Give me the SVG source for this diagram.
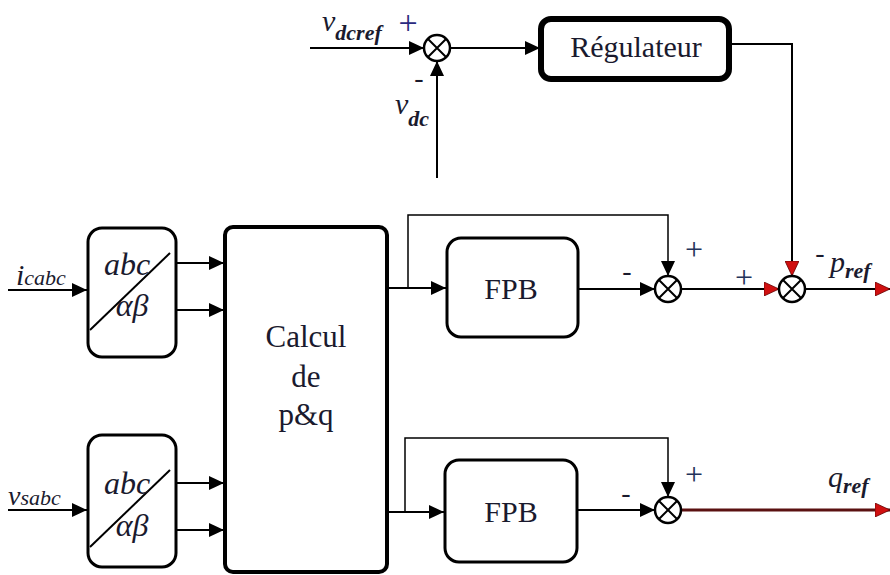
<svg xmlns="http://www.w3.org/2000/svg" width="890" height="575" viewBox="0 0 890 575">
<defs>
<marker id="ah" markerUnits="userSpaceOnUse" markerWidth="16" markerHeight="14" refX="15" refY="7" orient="auto"><path d="M0,0 L15,7 L0,14 z" fill="#000"/></marker>
<marker id="ahr" markerUnits="userSpaceOnUse" markerWidth="16" markerHeight="14" refX="15" refY="7" orient="auto"><path d="M0,0 L15,7 L0,14 z" fill="#d01010" stroke="#600" stroke-width="0.8"/></marker>
<g id="sumsym"><circle cx="0" cy="0" r="13" fill="#fff" stroke="#000" stroke-width="2.5"/><path d="M-9,-9 L9,9 M9,-9 L-9,9" stroke="#000" stroke-width="2"/></g>
</defs>
<rect width="890" height="575" fill="#fff"/>

<g id="connectors" fill="none" stroke="#000" stroke-width="2">
<line x1="310" y1="48" x2="424" y2="48" marker-end="url(#ah)"/>
<line x1="437" y1="178" x2="437" y2="61" marker-end="url(#ah)"/>
<line x1="450" y1="48" x2="540" y2="48" marker-end="url(#ah)"/>
<polyline points="730,44 792,44 792,276" marker-end="url(#ahr)"/>
<line x1="8" y1="290" x2="87" y2="290" marker-end="url(#ah)"/>
<line x1="176" y1="263" x2="224" y2="263" marker-end="url(#ah)"/>
<line x1="176" y1="310" x2="224" y2="310" marker-end="url(#ah)"/>
<line x1="8" y1="510" x2="87" y2="510" marker-end="url(#ah)"/>
<line x1="176" y1="483" x2="224" y2="483" marker-end="url(#ah)"/>
<line x1="176" y1="530" x2="224" y2="530" marker-end="url(#ah)"/>
<line x1="387" y1="288" x2="446" y2="288" marker-end="url(#ah)"/>
<polyline stroke-width="1.5" points="408,288 408,215 668,215 668,276" marker-end="url(#ah)"/>
<line x1="578" y1="289" x2="655" y2="289" marker-end="url(#ah)"/>
<line x1="681" y1="289" x2="779" y2="289" marker-end="url(#ahr)"/>
<line x1="805" y1="289" x2="890" y2="289" marker-end="url(#ahr)"/>
<line x1="387" y1="512" x2="444" y2="512" marker-end="url(#ah)"/>
<polyline stroke-width="1.5" points="405,512 405,438 668,438 668,497" marker-end="url(#ah)"/>
<line x1="577" y1="510" x2="655" y2="510" marker-end="url(#ah)"/>
<line x1="681" y1="510" x2="890" y2="510" stroke="#5a1010" stroke-width="3" marker-end="url(#ahr)"/>
</g>

<g id="sum1"><use href="#sumsym" x="437" y="48"/></g>
<g id="sum2"><use href="#sumsym" x="668" y="289"/></g>
<g id="sum3"><use href="#sumsym" x="792" y="289"/></g>
<g id="sum4"><use href="#sumsym" x="668" y="510"/></g>

<g id="regulateur">
<rect x="541" y="19" width="188" height="60" rx="10" fill="#fff" stroke="#000" stroke-width="6"/>
<text x="636" y="57" style="font-family:'Liberation Serif',serif;font-size:30px" fill="#1a1a2e" text-anchor="middle">Régulateur</text>
</g>

<g id="abc1">
<rect x="88" y="228" width="88" height="129" rx="14" fill="#fff" stroke="#000" stroke-width="3"/>
<line x1="90" y1="330" x2="170" y2="253" stroke="#000" stroke-width="2"/>
<text x="127" y="275" style="font-family:'Liberation Serif',serif;font-style:italic;font-size:32px" fill="#1a1a2e" text-anchor="middle">abc</text>
<text x="132" y="316" style="font-family:'Liberation Serif',serif;font-style:italic;font-size:32px" fill="#1a1a2e" text-anchor="middle">αβ</text>
</g>

<g id="abc2">
<rect x="88" y="435" width="88" height="132" rx="14" fill="#fff" stroke="#000" stroke-width="3"/>
<line x1="90" y1="547" x2="170" y2="470" stroke="#000" stroke-width="2"/>
<text x="127" y="494" style="font-family:'Liberation Serif',serif;font-style:italic;font-size:32px" fill="#1a1a2e" text-anchor="middle">abc</text>
<text x="132" y="536" style="font-family:'Liberation Serif',serif;font-style:italic;font-size:32px" fill="#1a1a2e" text-anchor="middle">αβ</text>
</g>

<g id="calcul">
<rect x="225" y="227" width="162" height="345" rx="8" fill="#fff" stroke="#000" stroke-width="4"/>
<text x="306" y="347" style="font-family:'Liberation Serif',serif;font-size:31px" fill="#1a1a2e" text-anchor="middle">Calcul</text>
<text x="306" y="387" style="font-family:'Liberation Serif',serif;font-size:31px" fill="#1a1a2e" text-anchor="middle">de</text>
<text x="306" y="425" style="font-family:'Liberation Serif',serif;font-size:31px" fill="#1a1a2e" text-anchor="middle">p&amp;q</text>
</g>

<g id="fpb1">
<rect x="447" y="238" width="131" height="99" rx="14" fill="#fff" stroke="#000" stroke-width="3"/>
<text x="511" y="299" style="font-family:'Liberation Serif',serif;font-size:30px" fill="#1a1a2e" text-anchor="middle">FPB</text>
</g>

<g id="fpb2">
<rect x="445" y="460" width="132" height="102" rx="14" fill="#fff" stroke="#000" stroke-width="3"/>
<text x="511" y="522" style="font-family:'Liberation Serif',serif;font-size:30px" fill="#1a1a2e" text-anchor="middle">FPB</text>
</g>

<g id="labels">
<text x="322" y="31" style="font-family:'Liberation Serif',serif;font-size:30px;font-style:italic" fill="#1a1a2e">v<tspan style="font-size:22px;font-weight:bold" dy="9">dcref</tspan></text>
<text x="408" y="34" style="font-family:'Liberation Serif',serif;font-size:34px" text-anchor="middle" fill="#2a2a80">+</text>
<text x="419" y="87" style="font-family:'Liberation Serif',serif;font-size:28px" text-anchor="middle" fill="#1a1a2e">-</text>
<text x="395" y="114" style="font-family:'Liberation Serif',serif;font-size:30px;font-style:italic" fill="#1a1a2e">v<tspan style="font-size:22px;font-weight:bold" dy="12">dc</tspan></text>
<text x="16" y="285" style="font-family:'Liberation Serif',serif;font-size:30px;font-style:italic" fill="#1a1a2e">i<tspan style="font-size:22px">cabc</tspan></text>
<text x="8" y="505" style="font-family:'Liberation Serif',serif;font-size:28px;font-style:italic" fill="#1a1a2e">v<tspan style="font-size:22px">sabc</tspan></text>
<text x="627" y="280" style="font-family:'Liberation Serif',serif;font-size:28px" text-anchor="middle" fill="#1a1a2e">-</text>
<text x="694" y="260" style="font-family:'Liberation Serif',serif;font-size:32px" text-anchor="middle" fill="#23335a">+</text>
<text x="744" y="288" style="font-family:'Liberation Serif',serif;font-size:32px" text-anchor="middle" fill="#23335a">+</text>
<text x="820" y="262" style="font-family:'Liberation Serif',serif;font-size:28px" text-anchor="middle" fill="#1a1a2e">-</text>
<text x="830" y="272" style="font-family:'Liberation Serif',serif;font-size:30px;font-style:italic" fill="#1a1a2e">p<tspan style="font-size:22px;font-weight:bold" dy="6">ref</tspan></text>
<text x="626" y="502" style="font-family:'Liberation Serif',serif;font-size:28px" text-anchor="middle" fill="#1a1a2e">-</text>
<text x="694" y="485" style="font-family:'Liberation Serif',serif;font-size:32px" text-anchor="middle" fill="#23335a">+</text>
<text x="828" y="487" style="font-family:'Liberation Serif',serif;font-size:30px;font-style:italic" fill="#1a1a2e">q<tspan style="font-size:22px;font-weight:bold" dy="6">ref</tspan></text>
</g>
</svg>
